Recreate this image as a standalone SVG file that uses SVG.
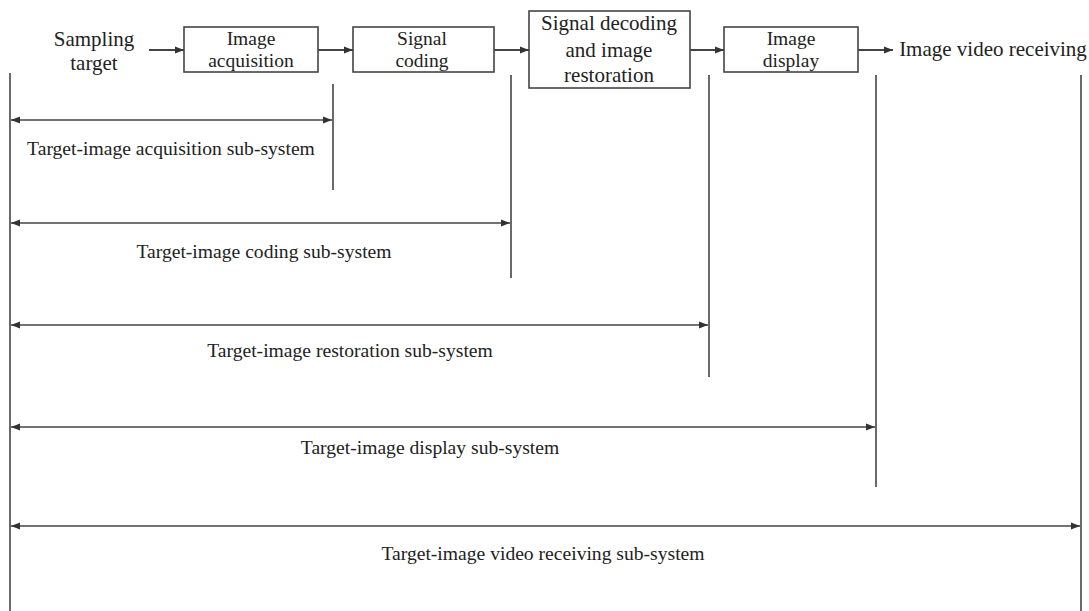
<svg xmlns="http://www.w3.org/2000/svg" width="1089" height="611" viewBox="0 0 1089 611">
<style>
text{font-family:"Liberation Serif","Times New Roman",serif;fill:#222}
.t{font-size:21px;text-anchor:middle}
.b{font-size:19.5px;text-anchor:middle}
.lbl{font-size:19.6px;text-anchor:middle}
.box{fill:#fff;stroke:#444;stroke-width:1.6}
.ln{stroke:#444;stroke-width:1.6;fill:none}
.ar{stroke:#444;stroke-width:2;fill:none}
</style>
<defs>
<marker id="ah" markerWidth="10" markerHeight="8" refX="9" refY="4" orient="auto" markerUnits="userSpaceOnUse"><path d="M0,0.5 L9,4 L0,7.5 Z" fill="#333"/></marker>
<marker id="ahs" markerWidth="10" markerHeight="8" refX="1" refY="4" orient="auto" markerUnits="userSpaceOnUse"><path d="M10,0.5 L1,4 L10,7.5 Z" fill="#333"/></marker>
</defs>
<g id="sampling-target"><text class="t" x="94" y="46">Sampling</text><text class="t" x="94" y="69.5">target</text></g>
<g id="image-acquisition"><rect class="box" x="184" y="27" width="134" height="45"/><text class="b" x="251" y="45">Image</text><text class="b" x="251" y="66.5">acquisition</text></g>
<g id="signal-coding"><rect class="box" x="353" y="27" width="141" height="45"/><text class="b" x="422" y="45">Signal</text><text class="b" x="422" y="66.5">coding</text></g>
<g id="signal-decoding"><rect class="box" x="529" y="11" width="161" height="77"/><text class="t" x="609" y="30">Signal decoding</text><text class="t" x="609" y="57">and image</text><text class="t" x="609" y="82">restoration</text></g>
<g id="image-display"><rect class="box" x="724" y="27" width="134" height="45"/><text class="b" x="791" y="45">Image</text><text class="b" x="791" y="66.5">display</text></g>
<g id="image-video-receiving"><text class="t" x="993" y="56">Image video receiving</text></g>
<g id="connectors">
<line class="ar" x1="149" y1="50" x2="184" y2="50" marker-end="url(#ah)"/>
<line class="ar" x1="318" y1="50" x2="353" y2="50" marker-end="url(#ah)"/>
<line class="ar" x1="494" y1="50" x2="529" y2="50" marker-end="url(#ah)"/>
<line class="ar" x1="690" y1="50" x2="724" y2="50" marker-end="url(#ah)"/>
<line class="ar" x1="858" y1="50" x2="893" y2="50" marker-end="url(#ah)"/>
<line class="ln" x1="10" y1="73" x2="10" y2="611"/>
<line class="ln" x1="333" y1="84" x2="333" y2="190"/>
<line class="ln" x1="511" y1="75" x2="511" y2="278"/>
<line class="ln" x1="709" y1="75" x2="709" y2="377"/>
<line class="ln" x1="876" y1="75" x2="876" y2="487"/>
<line class="ln" x1="1081" y1="75" x2="1081" y2="611"/>
<line class="ln" x1="11" y1="120" x2="332" y2="120" marker-start="url(#ahs)" marker-end="url(#ah)"/>
<line class="ln" x1="11" y1="223" x2="510" y2="223" marker-start="url(#ahs)" marker-end="url(#ah)"/>
<line class="ln" x1="11" y1="325" x2="708" y2="325" marker-start="url(#ahs)" marker-end="url(#ah)"/>
<line class="ln" x1="11" y1="427" x2="875" y2="427" marker-start="url(#ahs)" marker-end="url(#ah)"/>
<line class="ln" x1="11" y1="526" x2="1080" y2="526" marker-start="url(#ahs)" marker-end="url(#ah)"/>
</g>
<g id="labels">
<text class="lbl" x="171" y="155">Target-image acquisition sub-system</text>
<text class="lbl" x="264" y="258">Target-image coding sub-system</text>
<text class="lbl" x="350" y="357">Target-image restoration sub-system</text>
<text class="lbl" x="430" y="454">Target-image display sub-system</text>
<text class="lbl" x="543" y="560">Target-image video receiving sub-system</text>
</g>
</svg>
